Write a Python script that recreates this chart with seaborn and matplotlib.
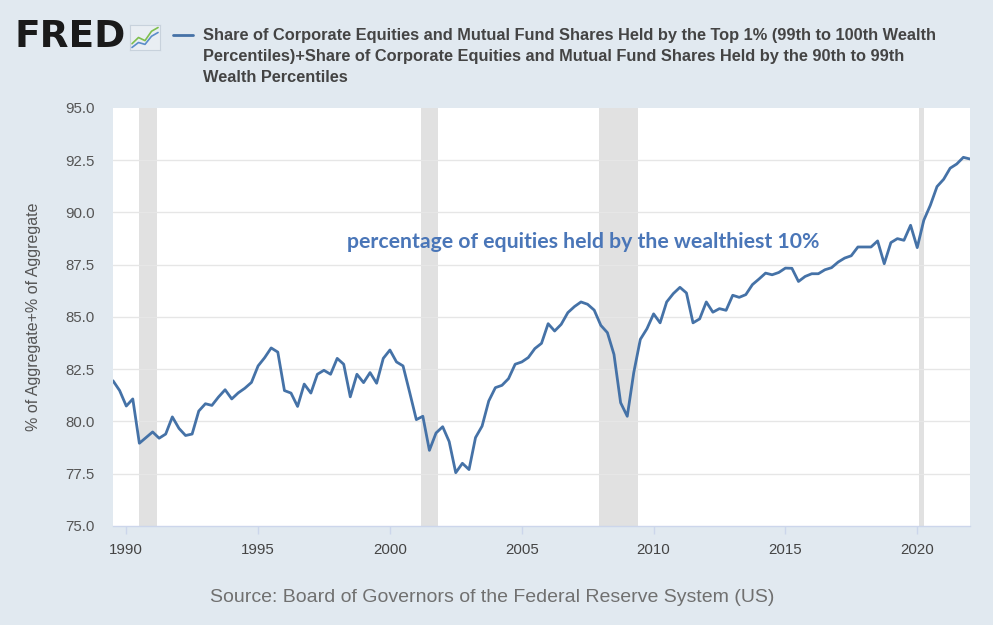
import numpy as np
import pandas as pd
import seaborn as sns
import matplotlib.pyplot as plt

# quarterly values, 1989Q3 .. 2022Q1 (percent of aggregate, top 10%)
vals_1989_1995 = [81.95, 81.48, 80.74, 81.08, 78.96, 79.23, 79.5, 79.2, 79.4, 80.22,
                  79.67, 79.33, 79.4, 80.5, 80.85, 80.77, 81.17, 81.52, 81.08, 81.37,
                  81.59, 81.87, 82.66, 83.05, 83.52, 83.32]
vals_1996_2002 = [81.48, 81.36, 80.72, 81.79, 81.36, 82.26, 82.45, 82.26, 83.02, 82.74,
                  81.18, 82.26, 81.86, 82.34, 81.83, 83.02, 83.42, 82.85, 82.66, 81.39,
                  80.09, 80.25, 78.62, 79.45, 79.75, 79.04, 77.55, 78.0]
vals_2003_2009 = [77.7, 79.23, 79.78, 80.98, 81.62, 81.73, 82.05, 82.74, 82.85, 83.06,
                  83.49, 83.74, 84.68, 84.33, 84.65, 85.21, 85.5, 85.72, 85.61, 85.33,
                  84.6, 84.25, 83.21, 80.9, 80.25, 82.34, 83.93, 84.44]
vals_2010_2016 = [85.15, 84.72, 85.72, 86.12, 86.42, 86.15, 84.72, 84.91, 85.72, 85.23,
                  85.4, 85.32, 86.04, 85.94, 86.07, 86.55, 86.82, 87.1, 87.02, 87.13,
                  87.34, 87.33, 86.7, 86.94, 87.07, 87.07, 87.26, 87.36]
vals_2017_2022 = [87.63, 87.82, 87.93, 88.35, 88.35, 88.35, 88.64, 87.55, 88.56, 88.75,
                  88.67, 89.39, 88.32, 89.63, 90.35, 91.24, 91.59, 92.12, 92.32, 92.64,
                  92.56]

values = vals_1989_1995 + vals_1996_2002 + vals_2003_2009 + vals_2010_2016 + vals_2017_2022
dates = pd.date_range('1989-07-01', periods=len(values), freq='QS')
df = pd.DataFrame({'date': dates, 'value': values})

rec_start = ['1990-07-01', '2001-03-01', '2007-12-01', '2020-02-01']
rec_end = ['1991-03-01', '2001-11-01', '2009-06-01', '2020-04-01']

year_ticks = [1990, 1995, 2000, 2005, 2010, 2015, 2020]
y_ticks = [75.0, 77.5, 80.0, 82.5, 85.0, 87.5, 90.0, 92.5, 95.0]

legend_text = ('Share of Corporate Equities and Mutual Fund Shares Held by the Top 1% (99th to 100th Wealth\n'
               'Percentiles)+Share of Corporate Equities and Mutual Fund Shares Held by the 90th to 99th\n'
               'Wealth Percentiles')
note_text = 'percentage of equities held by the wealthiest 10%'
source_text = 'Source: Board of Governors of the Federal Reserve System (US)'

sns.set_style('white')
plt.rcParams['font.family'] = ['Liberation Sans', 'DejaVu Sans']

bg = '#e1e9f0'
blue = '#4572a7'

fig = plt.figure(figsize=(9.93, 6.25), dpi=100, facecolor=bg)
ax = fig.add_axes([113 / 993, 1 - 526 / 625, 857 / 993, 418 / 625])
ax.set_facecolor('white')

for s, e in zip(rec_start, rec_end):
    ax.axvspan(pd.Timestamp(s), pd.Timestamp(e), color='#e1e1e1', lw=0, zorder=0)

for yv in y_ticks[1:-1]:
    ax.axhline(yv, color='#e6e6e6', lw=1, zorder=1)

sns.lineplot(data=df, x='date', y='value', ax=ax, color=blue, lw=2, zorder=3)

ax.set_xlim(pd.Timestamp('1989-07-01'), pd.Timestamp('2022-01-01'))
ax.set_ylim(75, 95)
ax.set_xticks([pd.Timestamp(f'{y}-01-01') for y in year_ticks])
ax.set_xticklabels([str(y) for y in year_ticks], fontsize=10.8, color='#444444')
ax.set_yticks(y_ticks)
ax.set_yticklabels([f'{v:.1f}' for v in y_ticks], fontsize=10.8, color='#555555')
ax.tick_params(axis='x', length=6, width=1, color='#ccd6eb', pad=6, direction='out', bottom=True)
ax.tick_params(axis='y', length=0, pad=13)
for side in ['top', 'right', 'left']:
    ax.spines[side].set_visible(False)
ax.spines['bottom'].set_color('#ccd6eb')
ax.spines['bottom'].set_linewidth(1)
ax.set_xlabel('')
ax.set_ylabel('% of Aggregate+% of Aggregate', fontsize=11.5, color='#555555')
ax.yaxis.set_label_coords(-72 / 857, 0.5)

ax.text(pd.Timestamp('1998-05-20'), 88.6, note_text, color='#4a76b8', fontsize=15.3,
        fontweight='bold', family=['Lato', 'DejaVu Sans'], ha='left', va='center', zorder=4)

# header
fig.text(15 / 993, 1 - 37 / 625, 'FRED', fontsize=27, fontweight='bold', color='#1a1a1a',
         family=['DejaVu Sans'], ha='left', va='center')
icon = fig.add_axes([130 / 993, 1 - 50 / 625, 30 / 993, 25 / 625])
icon.set_facecolor('#e9eef3')
icon.plot([0, 1, 2, 3, 4], [1, 2, 1.5, 3, 3.6], color='#7fbf4d', lw=1.2)
icon.plot([0, 1, 2, 3, 4], [0.4, 1.2, 0.9, 2.2, 2.8], color='#5b8dc9', lw=1.2)
icon.set_xlim(-0.3, 4.3)
icon.set_ylim(0, 4)
icon.set_xticks([])
icon.set_yticks([])
for sp in icon.spines.values():
    sp.set_color('#c8d2dc')

fig.add_artist(plt.Line2D([173 / 993, 193 / 993], [1 - 35 / 625, 1 - 35 / 625],
                          color=blue, lw=2, transform=fig.transFigure))
fig.text(203 / 993, 1 - 28 / 625, legend_text, fontsize=11.8, fontweight='bold',
         color='#444444', ha='left', va='top', linespacing=1.5)

fig.text(492 / 993, 1 - 597 / 625, source_text, fontsize=14, color='#707070',
         ha='center', va='center')

fig.savefig('out.png', dpi=100, facecolor=bg)
